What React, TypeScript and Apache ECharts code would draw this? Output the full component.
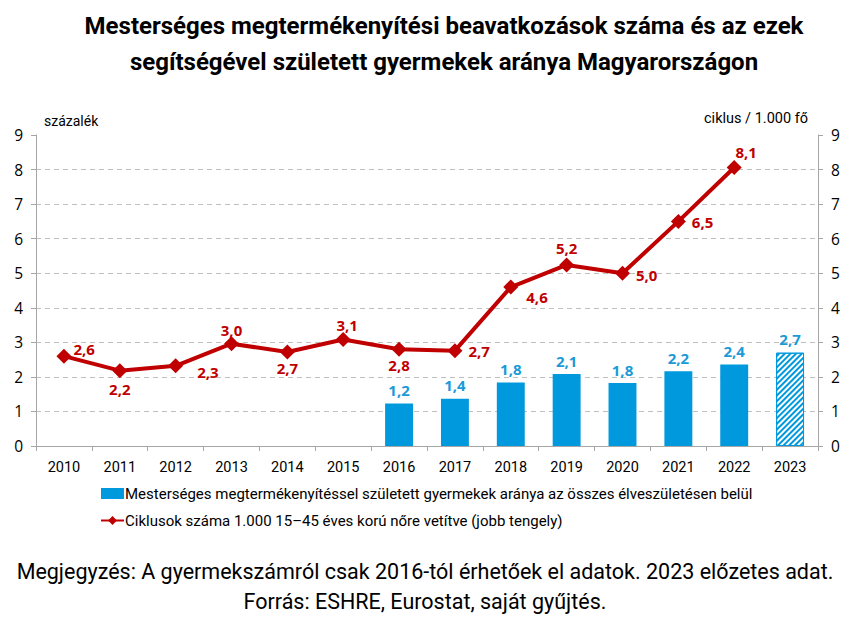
import React, { useEffect, useRef } from "react";
import * as echarts from "echarts";

const years = ["2010","2011","2012","2013","2014","2015","2016","2017","2018","2019","2020","2021","2022","2023"];
const barValues: (number | null)[] = [null,null,null,null,null,null,1.23,1.37,1.84,2.08,1.82,2.16,2.36,2.7];
const barLabels: string[] = ["","","","","","","1,2","1,4","1,8","2,1","1,8","2,2","2,4","2,7"];
const lineValues: (number | null)[] = [2.6,2.18,2.32,2.96,2.72,3.08,2.8,2.76,4.6,5.24,5.0,6.5,8.06,null];
const lineLabels: string[] = ["2,6","2,2","2,3","3,0","2,7","3,1","2,8","2,7","4,6","5,2","5,0","6,5","8,1",""];
const barName = "Mesterséges megtermékenyítéssel született gyermekek aránya az összes élveszületésen belül";
const lineName = "Ciklusok száma 1.000 15–45 éves korú nőre vetítve (jobb tengely)";
const titleLines = ["Mesterséges megtermékenyítési beavatkozások száma és az ezek", "segítségével született gyermekek aránya Magyarországon"];
const noteLines = ["Megjegyzés: A gyermekszámról csak 2016-tól érhetőek el adatok. 2023 előzetes adat.", "Forrás: ESHRE, Eurostat, saját gyűjtés."];

const RED = "#C00000";
const BLUE = "#0099DD";
const NARROW = "'Liberation Sans Narrow', 'Roboto', sans-serif";
const AXISF = "'Open Sans', 'Noto Sans', sans-serif";

const linePos: any[] = [
  { position: "right", offset: [0, -7], distance: 2 },
  { position: "bottom", offset: [0, 0], distance: 3 },
  { position: "right", offset: [8, 6], distance: 6 },
  { position: "top", offset: [0, 0], distance: -1 },
  { position: "bottom", offset: [0, 0], distance: 1 },
  { position: "top", offset: [4, 0], distance: 0 },
  { position: "bottom", offset: [0, 0], distance: 1 },
  { position: "right", offset: [0, 0], distance: 6 },
  { position: "right", offset: [2, 10], distance: 6 },
  { position: "top", offset: [0, 0], distance: 2 },
  { position: "right", offset: [0, 2], distance: 6 },
  { position: "right", offset: [0, 1], distance: 6 },
  { position: "top", offset: [12, 0], distance: 0 },
  { position: "top", offset: [0, 0], distance: 0 },
];

function centeredText(text: string, cx: number, top: number, size: number, bold: boolean) {
  return {
    type: "text",
    x: cx,
    y: top,
    style: {
      text,
      fontSize: size,
      fontWeight: bold ? "bold" : "normal",
      fontFamily: NARROW,
      fill: "#000",
      align: "center",
      textAlign: "center",
      verticalAlign: "top",
      textVerticalAlign: "top",
    },
  };
}

export default function App() {
  const ref = useRef<HTMLDivElement>(null);
  useEffect(() => {
    document.body.style.margin = "0";
    const chart = echarts.init(ref.current!, undefined, { renderer: "svg" });
    const gridColors = ["#bfbfbf","#bfbfbf","#bfbfbf","#bfbfbf","#bfbfbf","#bfbfbf","#bfbfbf","#bfbfbf","#bfbfbf","rgba(0,0,0,0)"];
    const yAxisCommon = {
      type: "value",
      min: 0,
      max: 9,
      interval: 1,
      axisLine: { show: true, lineStyle: { color: "#a6a6a6" } },
      axisTick: { show: true, length: 5, lineStyle: { color: "#a6a6a6" } },
      axisLabel: { color: "#000", fontSize: 15.5, fontFamily: AXISF, margin: 13 },
    };
    chart.setOption({
      animation: false,
      backgroundColor: "#fff",
      grid: { left: 36, right: 50, top: 135, bottom: 180, containLabel: false },
      legend: {
        orient: "vertical",
        left: 95,
        top: 481,
        itemGap: 12,
        itemWidth: 23,
        itemHeight: 11,
        textStyle: { fontSize: 15, fontFamily: NARROW, color: "#000", padding: [0, 0, 0, -4] },
        data: [
          { name: barName, icon: "rect" },
          { name: lineName },
        ],
      },
      xAxis: {
        type: "category",
        data: years,
        axisLine: { lineStyle: { color: "#a6a6a6" } },
        axisTick: { show: true, interval: 0, length: 5, lineStyle: { color: "#a6a6a6" } },
        axisLabel: { color: "#000", fontSize: 14.5, fontFamily: NARROW, margin: 14, interval: 0 },
      },
      yAxis: [
        { ...yAxisCommon, splitLine: { show: true, lineStyle: { type: [5, 4], color: gridColors, width: 1 } } },
        { ...yAxisCommon, splitLine: { show: false } },
      ],
      series: [
        {
          name: barName,
          type: "bar",
          yAxisIndex: 0,
          barWidth: "50%",
          itemStyle: { color: BLUE },
          data: barValues.map((v, i) =>
            years[i] === "2023"
              ? {
                  value: v,
                  itemStyle: {
                    color: "#ffffff",
                    borderColor: BLUE,
                    borderWidth: 1,
                    decal: { symbol: "rect", color: BLUE, dashArrayX: [1, 0], dashArrayY: [1.5, 1.5], rotation: -Math.PI / 4, symbolSize: 1 },
                  },
                }
              : v
          ),
          label: {
            show: true,
            position: "top",
            distance: 6,
            color: "#1a9ad6",
            fontWeight: "bold",
            fontSize: 15,
            fontFamily: AXISF,
            formatter: (p: any) => barLabels[p.dataIndex],
          },
        },
        {
          name: lineName,
          type: "line",
          yAxisIndex: 1,
          data: lineValues.map((v, i) => ({
            value: v,
            label: { position: linePos[i].position, offset: linePos[i].offset, distance: linePos[i].distance },
          })),
          color: RED,
          lineStyle: { color: RED, width: 4 },
          symbol: "diamond",
          symbolSize: 15,
          itemStyle: { color: RED },
          label: {
            show: true,
            color: RED,
            fontWeight: "bold",
            fontSize: 15,
            fontFamily: AXISF,
            formatter: (p: any) => lineLabels[p.dataIndex],
          },
        },
      ],
      graphic: [
        centeredText(titleLines[0], 444, 14, 24, true),
        centeredText(titleLines[1], 444, 50, 24, true),
        { type: "text", left: 44, top: 114, style: { text: "százalék", fontSize: 14, fontFamily: NARROW, fill: "#000" } },
        { type: "text", right: 60, top: 111, style: { text: "ciklus / 1.000 fő", fontSize: 14.5, fontFamily: NARROW, fill: "#000" } },
        centeredText(noteLines[0], 425, 560, 21.5, false),
        centeredText(noteLines[1], 425, 590, 21.5, false),
      ],
    });
    return () => chart.dispose();
  }, []);
  return <div ref={ref} style={{ width: 868, height: 626 }} />;
}
